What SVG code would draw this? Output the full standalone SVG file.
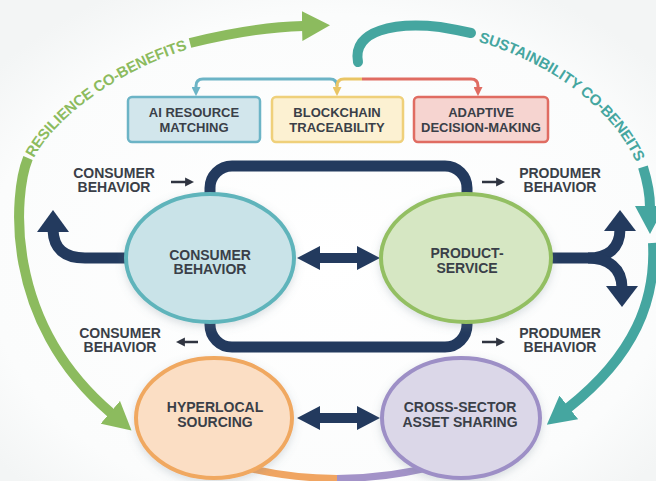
<svg xmlns="http://www.w3.org/2000/svg" width="656" height="481" viewBox="0 0 656 481">
  <defs>
    <radialGradient id="bg" cx="50%" cy="55%" r="65%">
      <stop offset="0" stop-color="#ffffff"/>
      <stop offset="0.8" stop-color="#fbfcfc"/>
      <stop offset="1" stop-color="#f3f5f5"/>
    </radialGradient>
    <filter id="soft" x="-20%" y="-20%" width="140%" height="150%">
      <feDropShadow dx="0" dy="3" stdDeviation="4" flood-color="#6b7a88" flood-opacity="0.25"/>
    </filter>
    <marker id="headGreen" viewBox="0 0 28 30" refX="1" refY="15" markerWidth="28" markerHeight="30" markerUnits="userSpaceOnUse" orient="auto">
      <path d="M0,0 L28,15 L0,30 z" fill="#8cbb5e"/>
    </marker>
    <marker id="headTeal" viewBox="0 0 28 30" refX="1" refY="15" markerWidth="28" markerHeight="30" markerUnits="userSpaceOnUse" orient="auto">
      <path d="M0,0 L28,15 L0,30 z" fill="#45a6a0"/>
    </marker>
    <marker id="headSmall" viewBox="0 0 10 10" refX="1" refY="5" markerWidth="9" markerHeight="10" markerUnits="userSpaceOnUse" orient="auto">
      <path d="M0,0 L10,5 L0,10 z" fill="#2f3440"/>
    </marker>
    <marker id="headBlue" viewBox="0 0 10 10" refX="1" refY="5" markerWidth="9" markerHeight="9" markerUnits="userSpaceOnUse" orient="auto">
      <path d="M0,0 L10,5 L0,10 z" fill="#6cb4c6"/>
    </marker>
    <marker id="headYellow" viewBox="0 0 10 10" refX="1" refY="5" markerWidth="9" markerHeight="9" markerUnits="userSpaceOnUse" orient="auto">
      <path d="M0,0 L10,5 L0,10 z" fill="#e9c565"/>
    </marker>
    <marker id="headRed" viewBox="0 0 10 10" refX="1" refY="5" markerWidth="9" markerHeight="9" markerUnits="userSpaceOnUse" orient="auto">
      <path d="M0,0 L10,5 L0,10 z" fill="#e06c62"/>
    </marker>
    <!-- caption paths follow the centre line of each outer arc -->
    <path id="resiliencePath" d="M 28,158 C 42,125 105,68 190,43"/>
    <path id="sustainPath" d="M 478,36 C 545,55 615,100 642,162"/>
  </defs>
  <style>
    .lbl { font-family: "Liberation Sans", Arial, sans-serif; font-weight: bold; fill: #3a3f48; text-anchor: middle; }
    .box { font-size: 13px; }
    .node { font-size: 14px; }
    .side { font-size: 14px; }
    .arc { font-family: "Liberation Sans", Arial, sans-serif; font-weight: bold; font-size: 15px; }
    .navy { stroke: #233a5e; fill: none; }
    .navyFill { fill: #233a5e; }
    .green { stroke: #8cbb5e; stroke-width: 10; fill: none; }
    .teal { stroke: #45a6a0; stroke-width: 10; fill: none; }
    .small { stroke: #2f3440; stroke-width: 2.5; fill: none; marker-end: url(#headSmall); }
  </style>

  <rect width="656" height="481" fill="url(#bg)"/>

  <g id="connectors">
    <!-- outer resilience arc: lower run, caption, upper run -->
    <path d="M 28,158 C 14,192 2,320 111,413" class="green" marker-end="url(#headGreen)"/>
    <path d="M 190,43 C 230,33 265,27 303,26" class="green" marker-end="url(#headGreen)"/>
    <!-- outer sustainability arc: hook, caption, descent, lower run -->
    <path d="M 358,62 C 352,30 395,22 440,27 C 452,29 462,31 471,33" class="teal" stroke-linecap="round"/>
    <path d="M 643,167 C 647,180 650,194 650,207" class="teal" marker-end="url(#headTeal)"/>
    <path d="M 653,243 C 656,300 635,355 568,408" class="teal" marker-end="url(#headTeal)"/>

    <!-- links among enabling technologies -->
    <path d="M 196,86 Q 196,79 203,79 H 330 Q 337,79 337,86" fill="none" stroke="#6cb4c6" stroke-width="3"/>
    <path d="M 196,86 V 88" fill="none" stroke="#6cb4c6" stroke-width="3" marker-end="url(#headBlue)"/>
    <path d="M 337,86 Q 337,79 344,79 H 362" fill="none" stroke="#e9c565" stroke-width="3"/>
    <path d="M 337,86 V 88" fill="none" stroke="#e9c565" stroke-width="3" marker-end="url(#headYellow)"/>
    <path d="M 362,79 H 471 Q 478,79 478,86 V 88" fill="none" stroke="#e06c62" stroke-width="3" marker-end="url(#headRed)"/>

    <!-- central feedback loop -->
    <rect x="210" y="166" width="257" height="181" rx="22" class="navy" stroke-width="11"/>

    <!-- bottom link between the lower nodes -->
    <path d="M 232,464 Q 285,478.5 337,478.5" fill="none" stroke="#f0a562" stroke-width="7"/>
    <path d="M 337,478.5 Q 390,478.5 443,464" fill="none" stroke="#a393c8" stroke-width="7"/>

    <!-- exit arrows -->
    <path d="M 130,258 H 85 Q 54,258 53,230" class="navy" stroke-width="11"/>
    <polygon points="53,210 37,232 69,232" class="navyFill"/>
    <path d="M 548,258 H 588 C 608,258 620,248 620,229" class="navy" stroke-width="11"/>
    <polygon points="620,210 604,231 636,231" class="navyFill"/>
    <path d="M 588,258 C 608,258 622,268 622,288" class="navy" stroke-width="11"/>
    <polygon points="622,307 606,286 638,286" class="navyFill"/>

    <!-- two-way arrows -->
    <polygon points="297,258 320,246 320,253 357,253 357,246 380,258 357,270 357,263 320,263 320,270" class="navyFill"/>
    <polygon points="297,418 320,406 320,413 357,413 357,406 380,418 357,430 357,423 320,423 320,430" class="navyFill"/>

    <!-- small side arrows -->
    <path d="M 171,182 H 186" class="small"/>
    <path d="M 198,342 H 184" class="small"/>
    <path d="M 482,182 H 497" class="small"/>
    <path d="M 482,342 H 497" class="small"/>
  </g>

  <!-- arc captions -->
  <text class="arc" fill="#8cbb5e" dy="5.4"><textPath href="#resiliencePath" startOffset="3">RESILIENCE CO-BENEFITS</textPath></text>
  <text class="arc" fill="#45a6a0" dy="5.4"><textPath href="#sustainPath" startOffset="2">SUSTAINBILITY CO-BENEITS</textPath></text>

  <!-- enabling technology boxes -->
  <g id="ai-matching">
    <rect x="128" y="97" width="132" height="45" rx="4" fill="#d2e6ec" stroke="#6cb4c6" stroke-width="2.5"/>
    <text class="lbl box" x="194" y="117">AI RESOURCE</text>
    <text class="lbl box" x="194" y="132">MATCHING</text>
  </g>
  <g id="blockchain">
    <rect x="272" y="97" width="131" height="45" rx="4" fill="#fcf1d2" stroke="#efd07a" stroke-width="2.5"/>
    <text class="lbl box" x="337" y="117">BLOCKCHAIN</text>
    <text class="lbl box" x="337" y="132">TRACEABILITY</text>
  </g>
  <g id="adaptive">
    <rect x="414" y="97" width="134" height="45" rx="4" fill="#f6d4d0" stroke="#e06c62" stroke-width="2.5"/>
    <text class="lbl box" x="481" y="117">ADAPTIVE</text>
    <text class="lbl box" x="481" y="132">DECISION-MAKING</text>
  </g>

  <!-- side labels -->
  <g id="consumer-in">
    <text class="lbl side" x="114" y="178">CONSUMER</text>
    <text class="lbl side" x="114" y="192">BEHAVIOR</text>
  </g>
  <g id="consumer-out">
    <text class="lbl side" x="120" y="338">CONSUMER</text>
    <text class="lbl side" x="120" y="352">BEHAVIOR</text>
  </g>
  <g id="produmer-top">
    <text class="lbl side" x="560" y="178">PRODUMER</text>
    <text class="lbl side" x="560" y="192">BEHAVIOR</text>
  </g>
  <g id="produmer-bottom">
    <text class="lbl side" x="560" y="338">PRODUMER</text>
    <text class="lbl side" x="560" y="352">BEHAVIOR</text>
  </g>

  <!-- main nodes -->
  <g id="consumer-behavior">
    <ellipse cx="210" cy="258" rx="84" ry="64" fill="#c9e3e8" stroke="#5fb4bb" stroke-width="4" filter="url(#soft)"/>
    <text class="lbl node" x="210" y="260">CONSUMER</text>
    <text class="lbl node" x="210" y="274">BEHAVIOR</text>
  </g>
  <g id="product-service">
    <ellipse cx="466" cy="258" rx="85" ry="64" fill="#d6e7c3" stroke="#93bf62" stroke-width="4" filter="url(#soft)"/>
    <text class="lbl node" x="467" y="258">PRODUCT-</text>
    <text class="lbl node" x="467" y="273">SERVICE</text>
  </g>
  <g id="hyperlocal-sourcing">
    <ellipse cx="214" cy="418" rx="78" ry="60" fill="#fbdec4" stroke="#f0a860" stroke-width="4" filter="url(#soft)"/>
    <text class="lbl node" x="215" y="412">HYPERLOCAL</text>
    <text class="lbl node" x="215" y="427">SOURCING</text>
  </g>
  <g id="cross-sector-asset-sharing">
    <ellipse cx="461" cy="418" rx="79" ry="60" fill="#dbd7e8" stroke="#9d8fc6" stroke-width="4" filter="url(#soft)"/>
    <text class="lbl node" x="460" y="412">CROSS-SECTOR</text>
    <text class="lbl node" x="460" y="427">ASSET SHARING</text>
  </g>
</svg>
